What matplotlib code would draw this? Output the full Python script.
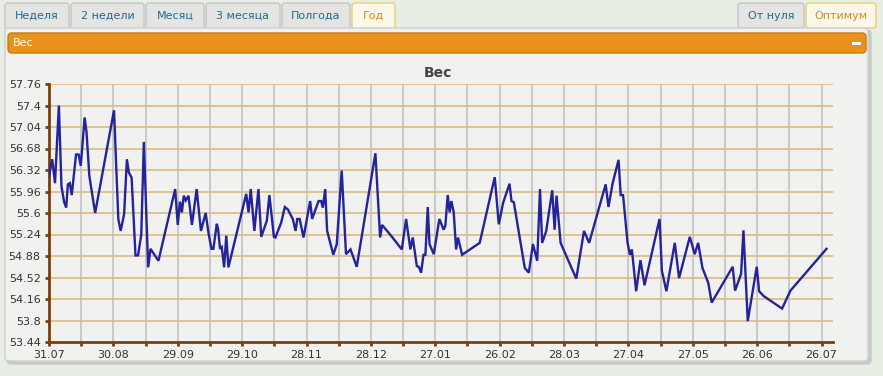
import matplotlib
matplotlib.use("Agg")
import matplotlib.pyplot as plt
from matplotlib.patches import FancyBboxPatch, Rectangle
import numpy as np

# ---- data: day offset from 31.07, weight (kg) ----
days = [0, 1.5, 2.8, 4.6, 5.8, 7, 8, 8.8, 9.7, 10.6, 12.6, 13.8, 14.8, 16.6, 17.5, 18.8,
        21.5, 30.3, 32.3, 33.4, 35, 36.3, 37.2, 38.5, 40.3, 41.5, 43, 44.2, 46.2, 47.3, 51,
        58.8, 60, 61, 61.9, 62.8, 63.7, 65, 66.6, 68.8, 70.8, 73, 74.3, 75.7, 76.6, 78.2,
        78.8, 79.7, 80.5, 81.6, 82.6, 83.6, 91.9, 93, 94, 95.7, 97.6, 98.9, 101.5, 102.7,
        104.8, 105.5, 108.2, 109.9, 111.3, 113.6, 114.9, 115.7, 116.8, 118.6, 121.7, 122.6,
        125.6, 126.8, 127.6, 128.7, 129.6, 132.5, 134.1, 136.4, 138.4, 140.5, 143.4, 152.1,
        154.3, 155.2, 159.4, 164.4, 166.4, 168.4, 169.5, 171.4, 172.3, 173.4, 174.5, 175.4,
        176.5, 177.3, 179.3, 181.9, 183.9, 184.7, 185.8, 186.7, 187.5, 188.6, 189.7, 190.6,
        192.5, 200.7, 207.7, 209.6, 211.6, 214.6, 215.5, 216.6, 221.7, 223.6, 225.5, 227.5,
        228.8, 229.8, 231.7, 234.5, 235.6, 236.5, 238.4, 245.7, 249.3, 251.7, 259.4, 260.7,
        262.6, 265.4, 266.4, 267.5, 269.6, 270.7, 271.6, 273.6, 275.6, 277.5, 284.5, 285.6,
        287.7, 291.6, 293.6, 298.6, 300.9, 302.5, 304.5, 307.2, 308.8, 318.6, 319.7, 322.5,
        323.6, 325.6, 329.8, 330.9, 333, 341.6, 345.5, 362.3]
weights = [56.22, 56.50, 56.10, 57.40, 56.05, 55.79, 55.69, 56.08, 56.10, 55.90, 56.58, 56.58,
           56.39, 57.20, 56.95, 56.22, 55.60, 57.32, 55.50, 55.30, 55.58, 56.50, 56.28, 56.19,
           54.89, 54.89, 55.24, 56.79, 54.69, 55.00, 54.80, 56.00, 55.40, 55.79, 55.61, 55.89,
           55.81, 55.89, 55.40, 56.00, 55.30, 55.60, 55.27, 55.00, 55.00, 55.42, 55.33, 55.00,
           55.03, 54.69, 55.22, 54.69, 55.92, 55.61, 56.00, 55.30, 56.00, 55.20, 55.47, 55.90,
           55.20, 55.19, 55.44, 55.70, 55.66, 55.50, 55.30, 55.50, 55.50, 55.19, 55.80, 55.50,
           55.80, 55.80, 55.69, 56.00, 55.30, 54.90, 55.08, 56.31, 54.91, 54.99, 54.70, 56.60,
           55.19, 55.40, 55.22, 54.99, 55.50, 54.99, 55.19, 54.71, 54.70, 54.60, 54.90, 54.90,
           55.70, 55.08, 54.91, 55.50, 55.32, 55.39, 55.90, 55.61, 55.80, 55.61, 54.99, 55.19,
           54.90, 55.10, 56.20, 55.41, 55.77, 56.09, 55.80, 55.78, 54.68, 54.60, 55.08, 54.80,
           56.00, 55.10, 55.30, 55.98, 55.32, 55.89, 55.10, 54.50, 55.30, 55.10, 56.08, 55.70,
           56.09, 56.49, 55.90, 55.90, 55.10, 54.90, 54.99, 54.29, 54.81, 54.39, 55.50, 54.63,
           54.29, 55.10, 54.51, 55.20, 54.91, 55.10, 54.68, 54.43, 54.10, 54.70, 54.30, 54.58,
           55.31, 53.79, 54.70, 54.29, 54.21, 54.00, 54.30, 55.00]

x_tick_labels = ["31.07", "30.08", "29.09", "29.10", "28.11", "28.12", "27.01",
                 "26.02", "28.03", "27.04", "27.05", "26.06", "26.07"]
y_ticks = [53.44, 53.8, 54.16, 54.52, 54.88, 55.24, 55.6, 55.96, 56.32, 56.68, 57.04, 57.4, 57.76]
y_tick_labels = ["53.44", "53.8", "54.16", "54.52", "54.88", "55.24", "55.6", "55.96",
                 "56.32", "56.68", "57.04", "57.4", "57.76"]
tabs_left = ["Неделя", "2 недели", "Месяц", "3 месяца", "Полгода", "Год"]
tabs_right = ["От нуля", "Оптимум"]
panel_title = "Вес"
chart_title = "Вес"

W, H = 883, 376
fig = plt.figure(figsize=(W / 100, H / 100), dpi=100)
fig.patch.set_facecolor("#e7efe4")

# UI layer in pixel coordinates
ui = fig.add_axes([0, 0, 1, 1])
ui.set_xlim(0, W)
ui.set_ylim(H, 0)
ui.axis("off")

def box(x0, y0, x1, y1, fc, ec, r=3, lw=1.0, z=1):
    p = FancyBboxPatch((x0, y0), x1 - x0, y1 - y0,
                       boxstyle=f"round,pad=0,rounding_size={r}",
                       fc=fc, ec=ec, lw=lw, zorder=z)
    ui.add_patch(p)

# tabs
left_pos = [(5, 69), (71, 144), (146, 204), (206, 280), (282, 350), (352, 395)]
for (x0, x1), label in zip(left_pos, tabs_left):
    active = label == "Год"
    box(x0, 3, x1, 30, "#fbf8ea" if active else "#e4e4e2",
        "#e6cf70" if active else "#c4c4c4", r=3)
    ui.text((x0 + x1) / 2, 16, label, ha="center", va="center", fontsize=8,
            color="#d98a1c" if active else "#1f6a94", zorder=3)
right_pos = [(738, 804), (806, 876)]
for (x0, x1), label in zip(right_pos, tabs_right):
    active = label == "Оптимум"
    box(x0, 3, x1, 28, "#fbf8ea" if active else "#e4e4e2",
        "#e6cf70" if active else "#c4c4c4", r=3)
    ui.text((x0 + x1) / 2, 16, label, ha="center", va="center", fontsize=8,
            color="#d98a1c" if active else "#1f6a94", zorder=3)

# panel
box(7, 30, 871, 364, "#c9c9c7", "#c9c9c7", r=4, z=1)
box(5, 28, 868, 361, "#f1f1ef", "#cfcfcf", r=4, z=2)
# orange header
box(8, 33, 866, 53, "#e8921d", "#c97a10", r=4, z=3)
ui.text(13, 43, panel_title, ha="left", va="center", fontsize=8, color="white", zorder=4)
ui.add_patch(Rectangle((852, 42), 9, 3, fc="white", ec="none", zorder=4))
# chart title
ui.text(438, 73, chart_title, ha="center", va="center", fontsize=10, fontweight="bold",
        color="#444444", zorder=4)

# chart axes
left, right, top, bottom = 49, 833, 84, 342
ax = fig.add_axes([left / W, (H - bottom) / H, (right - left) / W, (bottom - top) / H])
ax.set_facecolor("#f1f1ef")
x_max = (right - left) / 2.146
ax.set_xlim(0, x_max)
ax.set_ylim(y_ticks[0], y_ticks[-1])

major_x = [30 * i for i in range(len(x_tick_labels))]
minor_x = [15 + 30 * i for i in range(len(x_tick_labels))]
ax.set_xticks(major_x)
ax.set_xticklabels(x_tick_labels)
ax.set_xticks([m for m in minor_x if m < x_max], minor=True)
ax.set_yticks(y_ticks)
ax.set_yticklabels(y_tick_labels)

for v in major_x + minor_x:
    if 0 < v < x_max:
        ax.axvline(v, color="#c3c3c3", lw=1.2, zorder=1)
for v in y_ticks[1:]:
    ax.axhline(v, color="#dcbc80", lw=1.2, zorder=1)

ax.plot(days, weights, color="#23239b", lw=1.7, zorder=3, solid_joinstyle="miter")

for s in ["top", "right"]:
    ax.spines[s].set_visible(False)
for s in ["left", "bottom"]:
    ax.spines[s].set_color("#7b3f0c")
    ax.spines[s].set_linewidth(2)
ax.tick_params(axis="both", which="both", color="#7b3f0c", width=2, length=3,
               labelsize=8, labelcolor="#333333", pad=3)

fig.savefig("out.png", dpi=100, facecolor=fig.get_facecolor())
